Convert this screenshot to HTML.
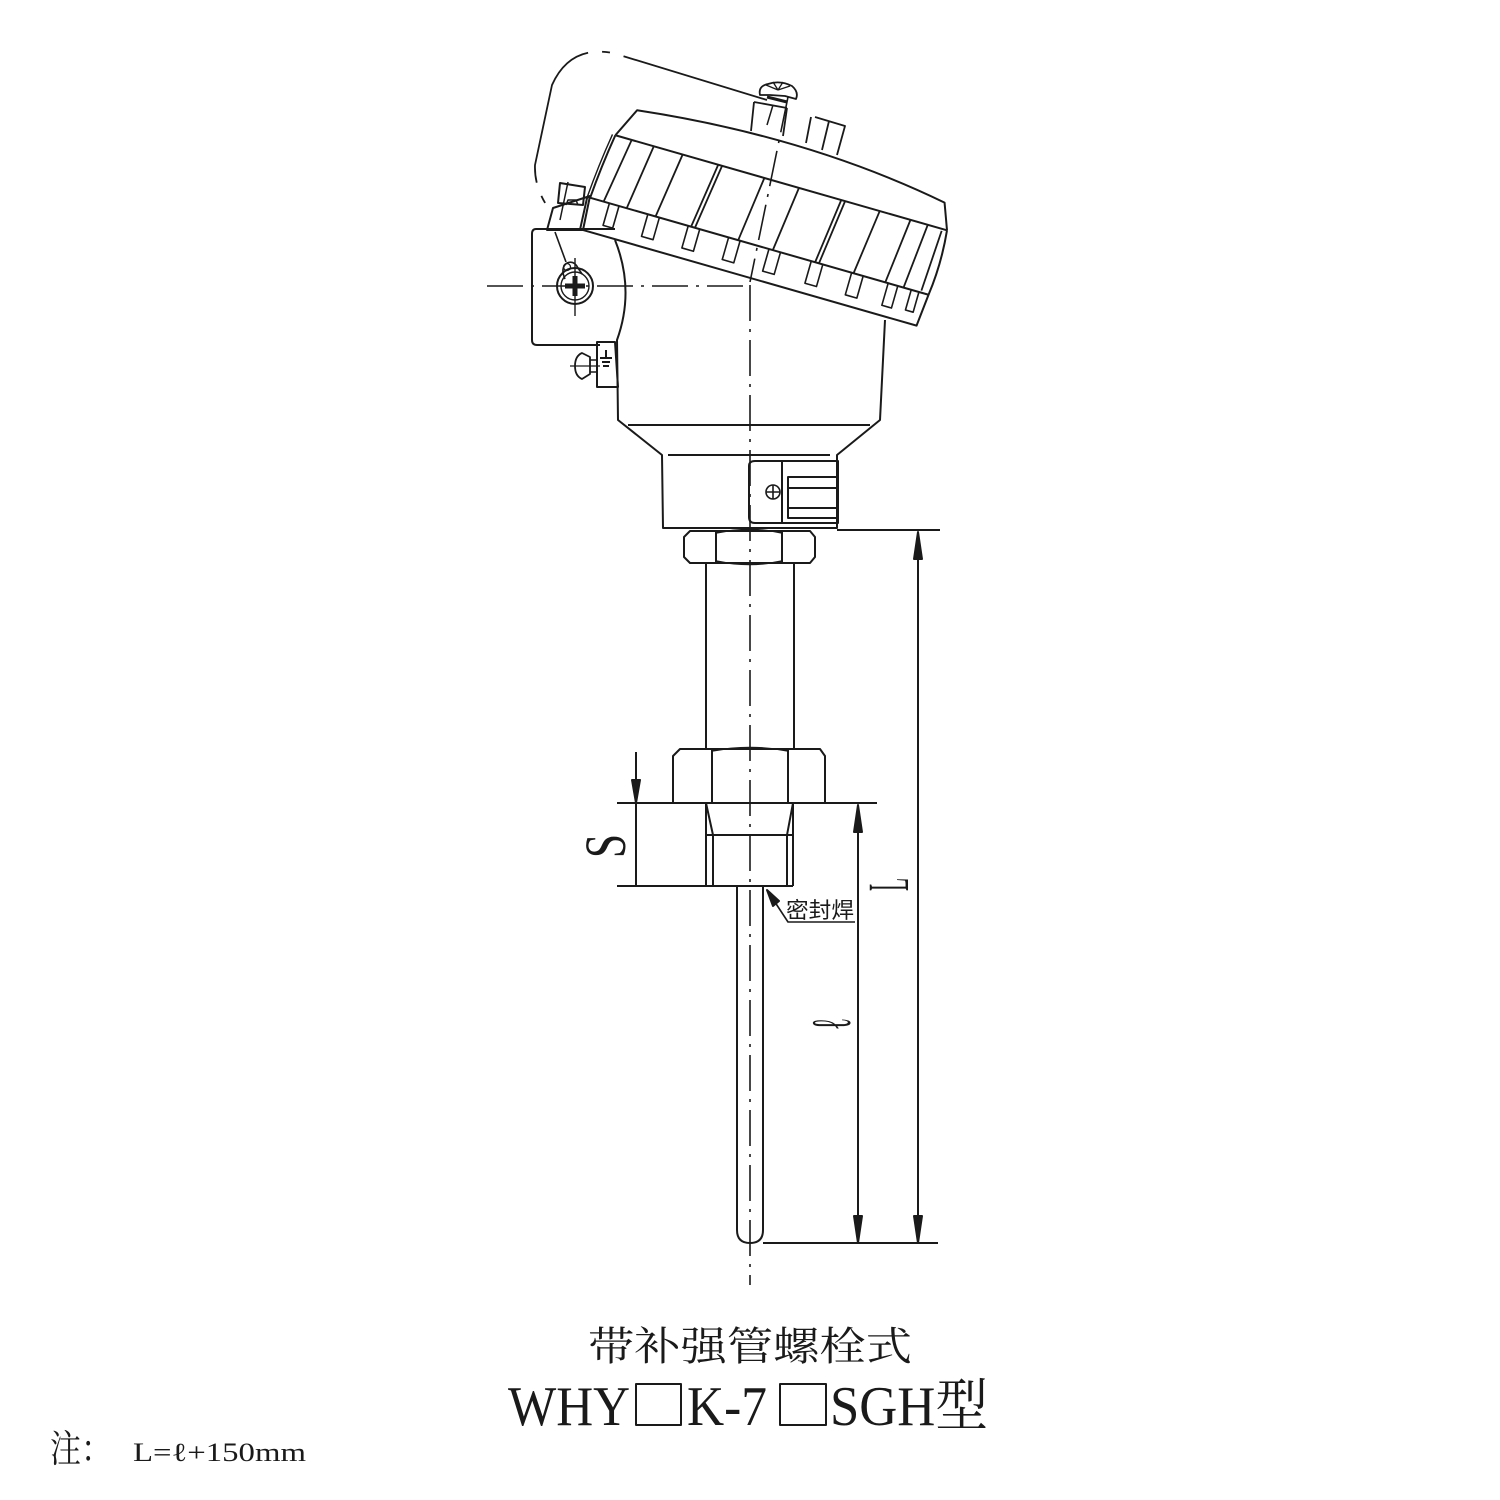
<!DOCTYPE html>
<html><head><meta charset="utf-8"><style>
html,body{margin:0;padding:0;background:#fff;}
svg{display:block;}
</style></head><body>
<svg width="1500" height="1500" viewBox="0 0 1500 1500" xmlns="http://www.w3.org/2000/svg">
<rect width="1500" height="1500" fill="#fff"/>
<g fill="none" stroke="#1a1a1a" stroke-width="2" stroke-linejoin="round">

<path d="M767,100 L613,53 Q570,45 552,85 L535,165 Q534,190 552,213" stroke-dasharray="150,14,8,14" stroke-width="1.8"/>

<g transform="translate(583,230) rotate(16)">
  <path d="M-3,0 L347,0 L350,-33 L-5,-33 Z"/>
  <g stroke-width="1.6">
    <path d="M18,-33 L18,-10 L28,-10 L28,-33"/>
    <path d="M58,-33 L58,-10 L70,-10 L70,-33"/>
    <path d="M100,-33 L100,-10 L112,-10 L112,-33"/>
    <path d="M142,-33 L142,-10 L154,-10 L154,-33"/>
    <path d="M184,-33 L184,-10 L196,-10 L196,-33"/>
    <path d="M228,-33 L228,-10 L240,-10 L240,-33"/>
    <path d="M270,-33 L270,-10 L282,-10 L282,-33"/>
    <path d="M308,-33 L308,-10 L318,-10 L318,-33"/>
    <path d="M332,-33 L332,-12 L340,-12 L340,-33"/>
  </g>
  <path d="M5,-100 Q0,-66 -2,-33 M350,-100 Q354,-66 350,-33"/>
  <path d="M5,-100 L350,-100"/>
  <path d="M2,-100 Q-3,-66 -5,-33" stroke-width="1.4"/>
  <g stroke-width="1.8">
    <path d="M22,-100 L12,-33"/><path d="M45,-100 L36,-33"/>
    <path d="M75,-100 L66,-33"/><path d="M112,-100 L103,-33"/><path d="M116,-100 L107,-33"/>
    <path d="M160,-100 L152,-33"/><path d="M196,-100 L188,-33"/>
    <path d="M240,-100 L232,-33"/><path d="M244,-100 L236,-33"/>
    <path d="M280,-100 L272,-33"/><path d="M312,-100 L305,-33"/><path d="M330,-100 L324,-33"/>
    <path d="M345,-98 L342,-35"/>
  </g>
  <path d="M5,-100 L19,-130 Q190,-152 340,-126 L350,-100"/>
</g>

<path d="M547,230 L553,208 L590,196 L583,230 Z"/>
<path d="M560,183 L585,187 L583,205 L558,203 Z"/>
<path d="M566,205 L568,200 L576,200 L578,205" stroke-width="1.5"/>
<line x1="568" y1="182" x2="560" y2="220" stroke-width="1.5"/>

<path d="M760,95 Q758,86 768,84 Q780,80 792,86 Q799,92 796,99 L785,96 L770,95 Z" stroke-width="1.8"/>
<path d="M778,90 L766,85 M778,90 L773,82 M778,90 L783,82 M778,90 L790,86" stroke-width="1.3"/>
<path d="M767,97 L787,102" stroke-width="3"/>
<path d="M754,102 L751,131 M787,108 L783,136 M754,102 L787,108" stroke-width="1.8"/>
<line x1="773" y1="105" x2="767" y2="125" stroke-width="1.5"/>
<path d="M815,117 L845,126 L837,155 M811,117 L806,143 M829,121 L822,150" stroke-width="1.8"/>

<path d="M615,240 Q635,290 617,340 L618,420 L662,455 L663,528 L837,528 L837,455 L880,420 L885,320"/>
<line x1="628" y1="425" x2="870" y2="425"/>
<line x1="668" y1="455" x2="830" y2="455"/>

<path d="M615,229 L536,229 Q532,229 532,234 L532,340 Q532,345 537,345 L600,345"/>
<circle cx="575" cy="286" r="18"/>
<circle cx="575" cy="286" r="14" stroke-width="1.4"/>
<path d="M565,279 Q560,268 567,263 Q574,260 578,268 L582,274" stroke-width="1.6"/>
<circle cx="567" cy="267" r="3.5" stroke-width="1.3"/>
<line x1="555" y1="232" x2="566" y2="262" stroke-width="1.6"/>
<path d="M565,286 L585,286 M575,276 L575,296" stroke-width="5"/>
<line x1="575" y1="258" x2="575" y2="316" stroke-width="1.4"/>

<path d="M597,342 L615,342 L618,387 L597,387 Z"/>
<path d="M600,358 L612,358 M606,350 L606,358 M602,362 L610,362 M603,366 L609,366" stroke-width="2"/>
<path d="M590,357 L582,353 Q575,356 575,366 Q575,376 582,379 L590,374 Z" stroke-width="1.8"/>
<path d="M590,360 L597,360 M590,372 L597,372" stroke-width="1.6"/>
<line x1="570" y1="366" x2="600" y2="366" stroke-width="1.2"/>

<path d="M749,466 Q749,461 755,461 L838,461 L838,523 L755,523 Q749,523 749,517 Z"/>
<line x1="782" y1="461" x2="782" y2="523"/>
<path d="M838,477 L788,477 L788,518 L838,518 M788,488 L838,488 M788,508 L838,508"/>
<circle cx="773" cy="492" r="7" stroke-width="1.6"/>
<path d="M766,492 L780,492 M773,485 L773,499" stroke-width="1.6"/>

<path d="M690,531 L810,531 L815,537 L815,557 L810,563 L690,563 L684,557 L684,537 Z"/>
<path d="M716,531 L716,563 M782,531 L782,563"/>
<path d="M716,533 Q750,526 782,533 M716,561 Q750,568 782,561" stroke-width="1.5"/>
<line x1="706" y1="563" x2="706" y2="749"/>
<line x1="794" y1="563" x2="794" y2="749"/>
<path d="M680,749 L820,749 L825,756 L825,803 L673,803 L673,756 Z"/>
<path d="M712,749 L712,803 M788,749 L788,803"/>
<path d="M712,751 Q750,744 788,751" stroke-width="1.5"/>
<line x1="617" y1="803" x2="877" y2="803"/>
<line x1="617" y1="886" x2="793" y2="886"/>
<path d="M706,803 L706,886 M713,835 L713,886 M787,835 L787,886 M793,803 L793,886"/>
<path d="M706,803 L713,835 M793,803 L787,835 M706,835 L793,835"/>
<line x1="636" y1="752" x2="636" y2="886"/>
<path d="M632,780 L636,803 L640,780 Z" fill="#1a1a1a"/>
<path d="M737,886 L737,1230 Q737,1243 750,1243 Q763,1243 763,1230 L763,886"/>
<path d="M767,890 L788,922 L855,922" stroke-width="1.6"/>
<path d="M767,890 L773,906 L779,901 Z" fill="#1a1a1a"/>
<line x1="858" y1="805" x2="858" y2="1243"/>
<path d="M854,832 L858,805 L862,832 Z" fill="#1a1a1a"/>
<path d="M854,1216 L858,1243 L862,1216 Z" fill="#1a1a1a"/>
<line x1="837" y1="530" x2="940" y2="530"/>
<line x1="918" y1="532" x2="918" y2="1243"/>
<path d="M914,559 L918,532 L922,559 Z" fill="#1a1a1a"/>
<path d="M914,1216 L918,1243 L922,1216 Z" fill="#1a1a1a"/>
<line x1="763" y1="1243" x2="938" y2="1243"/>

<rect x="636" y="1384" width="45" height="41"/>
<rect x="780" y="1384" width="46" height="41"/>
</g>

<g fill="none" stroke="#1a1a1a" stroke-width="1.6" stroke-dasharray="36,8,3,8">
<line x1="750" y1="285" x2="750" y2="1285"/>
<line x1="487" y1="286" x2="748" y2="286"/>
<line x1="788" y1="97" x2="750" y2="282"/>
</g>

<g font-family="'Liberation Serif','DejaVu Serif',serif" fill="#1a1a1a">
<text transform="translate(625,858) rotate(-90)" font-size="58" textLength="24" lengthAdjust="spacingAndGlyphs">S</text>
<text transform="translate(908,891) rotate(-90)" font-size="58" textLength="13" lengthAdjust="spacingAndGlyphs">L</text>
<text transform="translate(850,1030) rotate(-90)" font-size="56" textLength="12" lengthAdjust="spacingAndGlyphs">ℓ</text>
</g>
<text x="786" y="918" font-family="'Liberation Sans','Noto Sans CJK SC',sans-serif" font-size="22" fill="#1a1a1a" textLength="68" lengthAdjust="spacingAndGlyphs">密封焊</text>

<text x="588" y="1360" font-family="'Liberation Serif','Noto Serif CJK SC',serif" font-size="40" fill="#1a1a1a" textLength="324" lengthAdjust="spacingAndGlyphs">带补强管螺栓式</text>
<g font-family="'Liberation Serif','Noto Serif CJK SC',serif" font-size="56" fill="#1a1a1a">
<text x="508" y="1425" textLength="122" lengthAdjust="spacingAndGlyphs">WHY</text>
<text x="687" y="1425" textLength="80" lengthAdjust="spacingAndGlyphs">K-7</text>
<text x="830" y="1425" textLength="158" lengthAdjust="spacingAndGlyphs">SGH型</text>
</g>
<text x="50" y="1462" font-family="'Liberation Serif','Noto Serif CJK SC',serif" font-size="38" fill="#1a1a1a" textLength="62" lengthAdjust="spacingAndGlyphs">注：</text>
<text x="133" y="1461" font-family="'Liberation Serif','DejaVu Serif',serif" font-size="26" fill="#1a1a1a" textLength="173" lengthAdjust="spacingAndGlyphs">L=ℓ+150mm</text>
</svg>
</body></html>
